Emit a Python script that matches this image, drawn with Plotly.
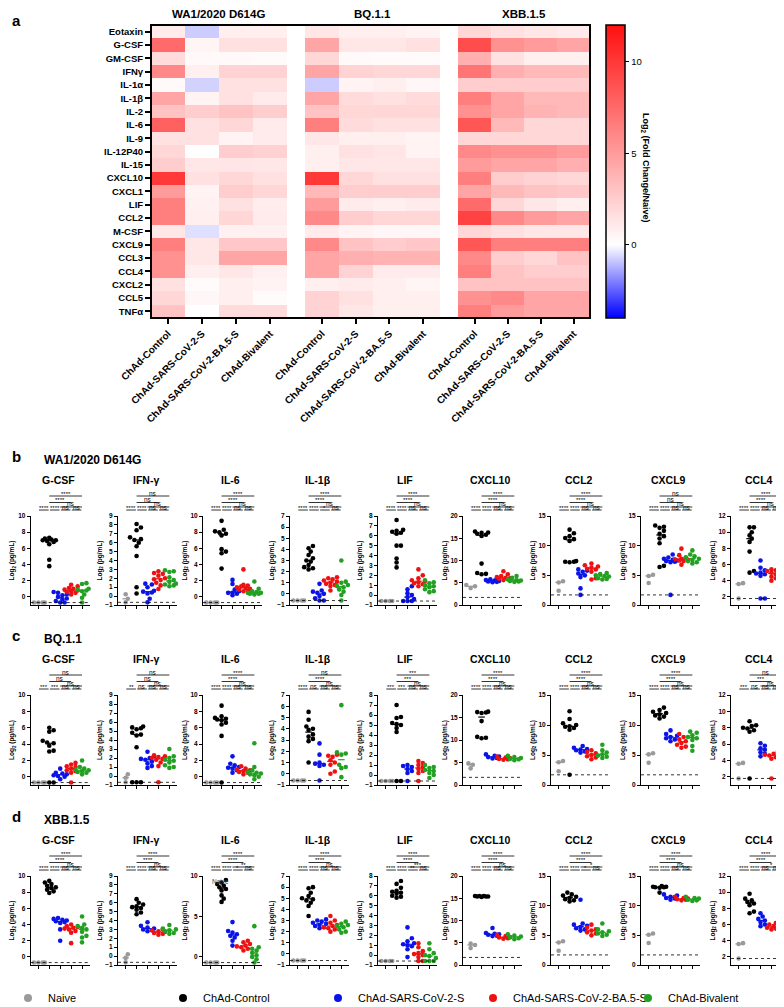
import numpy as np
import plotly.graph_objects as go

W, H = 784, 1007
FONT = "Liberation Sans, Arial, Helvetica, sans-serif"

# ---------------- heatmap data ----------------
cytokines = ["Eotaxin", "G-CSF", "GM-CSF", "IFNγ", "IL-1α", "IL-1β", "IL-2", "IL-6", "IL-9",
             "IL-12P40", "IL-15", "CXCL10", "CXCL1", "LIF", "CCL2", "M-CSF", "CXCL9", "CCL3",
             "CCL4", "CXCL2", "CCL5", "TNFα"]
vaccines = ["ChAd-Control", "ChAd-SARS-CoV-2-S", "ChAd-SARS-CoV-2-BA.5-S", "ChAd-Bivalent"]
variants = ["WA1/2020 D614G", "BQ.1.1", "XBB.1.5"]

wa1_control = [1.0, 7.5, 1.8, 6.0, 0.3, 4.5, 3.0, 8.0, 1.5, 2.0, 2.5, 10.0, 5.0, 6.5, 6.5, 1.2, 6.5, 5.5, 5.5, 1.5, 2.0, 3.0]
wa1_s = [-0.8, 0.5, 0.3, 0.8, -0.7, 0.6, 2.5, 1.5, 1.5, 0.0, 1.2, 1.5, 0.6, 0.7, 0.8, -0.5, 1.2, 1.2, 0.8, 0.2, 0.4, 0.0]
wa1_ba5 = [0.8, 1.5, 0.3, 2.2, 1.5, 1.5, 3.0, 2.0, 0.6, 2.5, 1.3, 2.0, 2.5, 1.5, 2.0, 0.7, 2.8, 4.5, 1.2, 0.8, 0.8, 1.8]
wa1_biv = [0.8, 1.5, 0.2, 2.2, 1.5, 1.0, 2.5, 1.0, 1.0, 2.3, 1.2, 1.5, 2.0, 0.9, 1.0, 0.7, 2.8, 4.5, 0.7, 0.6, 0.2, 1.8]
bq_control = [1.2, 4.5, 2.0, 4.5, -0.8, 4.5, 3.0, 6.5, 1.2, 0.8, 0.8, 10.0, 3.5, 5.0, 6.0, 1.0, 6.0, 4.5, 4.5, 0.8, 2.2, 2.2]
bq_s = [0.8, 1.2, 0.3, 2.2, 0.6, 1.8, 2.0, 1.8, 0.8, 1.5, 1.2, 2.0, 2.5, 1.0, 2.5, 0.6, 3.0, 4.0, 2.2, 1.0, 1.5, 1.2]
bq_ba5 = [0.8, 1.2, 0.2, 2.0, 0.8, 1.5, 2.0, 1.5, 0.8, 1.3, 1.2, 1.5, 2.5, 0.8, 2.0, 0.4, 2.5, 3.8, 1.0, 0.8, 0.8, 0.8]
bq_biv = [0.6, 1.5, 0.2, 2.0, 0.4, 1.8, 2.0, 1.5, 0.6, 0.6, 1.2, 1.5, 2.5, 1.0, 2.0, 0.4, 2.8, 3.8, 1.0, 0.5, 0.8, 0.8]
xbb_control = [2.0, 9.0, 4.0, 7.0, 2.5, 6.5, 5.5, 8.5, 2.0, 6.0, 5.0, 6.5, 4.5, 7.5, 9.5, 2.0, 8.5, 6.0, 6.5, 3.0, 5.5, 6.5]
xbb_s = [1.5, 5.5, 1.5, 4.0, 2.5, 4.5, 4.5, 3.5, 2.0, 5.5, 4.5, 2.5, 3.5, 2.0, 6.0, 1.5, 6.5, 2.5, 3.0, 3.0, 6.0, 5.0]
xbb_ba5 = [1.2, 5.0, 0.8, 3.5, 2.5, 3.5, 3.8, 2.0, 2.0, 5.5, 4.5, 2.2, 3.0, 1.2, 5.0, 1.2, 6.5, 2.0, 2.5, 3.0, 4.5, 4.5]
xbb_biv = [1.0, 4.5, 0.8, 3.5, 2.5, 3.5, 3.5, 2.0, 2.0, 5.0, 4.0, 2.0, 2.8, 0.8, 4.5, 1.2, 6.5, 3.0, 2.5, 3.0, 4.5, 4.5]

# ---------------- scatter data (Naive, Control, S, BA.5-S, Bivalent) ----------------
groups = ["Naive", "ChAd-Control", "ChAd-SARS-CoV-2-S", "ChAd-SARS-CoV-2-BA.5-S", "ChAd-Bivalent"]
panels = ["G-CSF", "IFN-γ", "IL-6", "IL-1β", "LIF", "CXCL10", "CCL2", "CXCL9", "CCL4"]

wa1_gcsf = [[-0.7, -0.7, -0.7, -0.7], [7.3, 7.2, 7.1, 7.0, 7.0, 6.9, 6.8, 6.5, 4.6, 3.8],
            [0.6, 0.5, 0.3, 0.2, 0.0, -0.2, -0.3, -0.5, -0.7, -0.7], [1.5, 1.3, 1.1, 1.0, 0.9, 0.8, 0.7, 0.6, 0.5, 0.3],
            [1.7, 1.6, 1.0, 0.9, 0.8, 0.7, 0.3, -0.1, -0.7]]
wa1_ifng = [[0.2, -0.3, -0.7], [8.1, 7.7, 7.4, 6.6, 6.4, 6.3, 6.0, 5.6, 4.5, 1.0, 0.3],
            [1.4, 1.3, 1.0, 0.6, 0.5, 0.4, 0.3, -0.3, -0.7], [2.8, 2.6, 2.5, 2.3, 2.0, 1.9, 1.8, 1.5, 1.2, 0.8],
            [2.9, 2.8, 2.7, 2.1, 1.8, 1.6, 1.4, 1.3, 1.2, 1.1]]
wa1_il6 = [[-0.7, -0.7, -0.7, -0.7], [9.4, 8.3, 8.1, 8.0, 7.8, 7.6, 5.9, 5.6, 5.4, 3.5],
           [2.1, 1.6, 0.9, 0.7, 0.5, 0.5, 0.4, 0.2], [3.4, 1.5, 1.4, 1.3, 1.2, 1.1, 1.0, 0.9, 0.8, 0.7],
           [1.9, 1.0, 0.7, 0.6, 0.5, 0.5, 0.4, 0.4, 0.3]]
wa1_il1b = [[-0.6, -0.6, -0.6, -0.6], [4.3, 4.1, 3.8, 3.5, 3.2, 3.0, 2.9, 2.6, 2.4, 2.3, 2.2],
            [0.9, 0.3, 0.2, 0.1, 0.0, -0.2, -0.4, -0.6, -0.6], [1.5, 1.4, 1.3, 1.2, 1.1, 1.0, 0.9, 0.8, 0.7, 0.3],
            [3.0, 1.1, 1.0, 0.8, 0.7, 0.6, 0.4, 0.2, -0.1, -0.6]]
wa1_lif = [[-0.6, -0.6, -0.6, -0.6], [7.6, 6.6, 6.5, 6.4, 6.3, 6.2, 5.0, 5.0, 3.7, 3.3, 2.8],
           [0.9, 0.6, 0.2, 0.0, -0.2, -0.4, -0.6, -0.6, -0.6], [2.6, 2.0, 1.7, 1.5, 1.4, 1.3, 1.2, 1.1, 0.9],
           [1.5, 1.3, 1.2, 1.0, 0.9, 0.8, 0.6, 0.4, 0.3]]
wa1_cxcl10 = [[4.5, 4.2, 3.8], [16.5, 16.3, 16.2, 16.0, 15.8, 15.5, 9.3, 7.2, 7.0, 6.9],
              [6.0, 5.8, 5.6, 5.5, 5.4, 5.3, 5.2, 5.1], [7.6, 6.9, 6.5, 6.3, 6.1, 6.0, 5.9, 5.8, 5.6],
              [6.5, 6.1, 5.8, 5.6, 5.5, 5.4, 5.3, 5.2]]
wa1_ccl2 = [[4.0, 3.8, 2.4], [12.7, 12.1, 11.6, 11.3, 11.1, 10.8, 7.4, 7.3, 7.3, 7.2],
            [6.0, 5.8, 5.6, 5.3, 5.0, 4.7, 2.8, 1.7], [7.0, 6.7, 6.5, 6.3, 6.1, 6.0, 5.6, 4.5, 4.3],
            [5.4, 5.2, 5.0, 4.9, 4.8, 4.5, 4.4, 4.3]]
wa1_cxcl9 = [[5.1, 4.9, 3.7], [13.4, 13.2, 13.0, 12.5, 12.0, 11.6, 11.2, 10.4, 6.6, 6.4],
             [8.5, 8.0, 7.8, 7.6, 7.5, 7.4, 7.3, 7.2, 1.7], [9.5, 8.4, 8.0, 7.8, 7.7, 7.6, 7.5, 7.4, 6.8],
             [9.2, 8.5, 8.2, 8.0, 7.8, 7.6, 7.4, 7.2, 7.0]]
wa1_ccl4 = [[3.7, 3.6, 1.8], [10.6, 10.6, 10.0, 9.6, 9.2, 8.8, 7.6, 5.2, 5.0],
            [6.5, 5.6, 5.3, 5.0, 4.9, 4.8, 4.6, 1.8, 1.8], [5.4, 5.3, 5.2, 5.0, 4.8, 4.5, 4.3, 4.0],
            [5.2, 5.0, 4.8, 4.6, 4.4, 4.2, 3.5, 3.3, 1.8]]

bq_gcsf = [[-0.7, -0.7, -0.7, -0.7], [6.0, 5.7, 5.5, 4.4, 4.2, 4.1, 3.8, 3.2, 3.1, -0.7, -0.7],
           [1.0, 0.5, 0.4, 0.3, 0.2, 0.1, 0.0, -0.3], [1.7, 1.5, 1.3, 1.2, 1.0, 0.8, 0.7, 0.5, -0.7],
           [2.0, 1.2, 1.0, 0.9, 0.8, 0.7, 0.6, 0.5, 0.3]]
bq_ifng = [[0.2, -0.2, -0.7], [5.5, 5.4, 5.3, 5.2, 4.8, 4.6, 4.5, 3.2, -0.7, -0.7, -0.7],
           [2.7, 2.2, 2.0, 1.9, 1.8, 1.6, 1.4, 1.1, 0.9], [2.3, 2.2, 2.1, 2.0, 1.9, 1.8, 1.5, 1.1, -0.7],
           [3.0, 2.2, 2.0, 1.8, 1.7, 1.5, 1.2, 1.0, 0.9]]
bq_il6 = [[-0.7, -0.7, -0.7, -0.7], [8.7, 7.4, 7.2, 7.1, 7.0, 6.9, 6.6, 6.4, 5.0, -0.7],
          [2.5, 1.6, 1.4, 1.2, 1.1, 1.0, 0.8, 0.5], [1.3, 1.0, 0.9, 0.8, 0.7, 0.6, 0.5, 0.3],
          [4.1, 1.2, 0.8, 0.6, 0.5, 0.4, 0.3, 0.2, 0.0, -0.3]]
bq_il1b = [[-0.6, -0.6, -0.6, -0.6], [5.5, 4.8, 4.2, 4.0, 3.9, 3.5, 3.3, 3.1, 2.9, 1.0],
           [2.7, 1.7, 1.0, 0.9, 0.8, 0.7, -0.6], [1.7, 1.6, 1.5, 1.2, 1.0, 0.8, 0.2, 0.0],
           [6.1, 1.9, 1.8, 1.7, 0.8, 0.6, 0.5, -0.3]]
bq_lif = [[-0.6, -0.6, -0.6, -0.6], [7.0, 5.8, 5.7, 5.2, 5.1, 5.0, 4.7, 4.3, -0.6, -0.6],
          [1.0, 0.9, 0.8, 0.6, 0.4, 0.2, -0.6], [1.4, 1.2, 1.0, 0.8, 0.6, 0.4, 0.2, -0.6],
          [1.0, 0.8, 0.7, 0.5, 0.4, 0.2, 0.0, -0.3]]
bq_cxcl10 = [[4.8, 4.5, 3.7], [16.3, 16.2, 16.1, 16.0, 14.2, 10.7, 10.5, 10.4],
             [6.8, 6.5, 6.3, 6.2, 6.0, 5.9], [6.3, 6.1, 6.0, 5.8, 5.7, 5.6],
             [6.5, 6.2, 6.0, 5.8, 5.7, 5.5]]
bq_ccl2 = [[4.0, 3.8, 2.3], [12.3, 11.0, 10.3, 10.0, 9.8, 9.7, 9.5, 9.2, 1.7],
           [6.5, 6.2, 6.0, 5.9, 5.8, 5.6, 5.4], [5.8, 5.5, 5.3, 5.0, 4.8, 4.6, 4.3],
           [6.7, 5.8, 5.4, 5.1, 4.9, 4.7, 4.5]]
bq_cxcl9 = [[5.3, 5.1, 3.7], [12.9, 12.5, 12.2, 12.0, 11.8, 11.6, 11.4, 11.1],
            [9.1, 8.5, 8.2, 8.0, 7.8, 7.6, 7.3], [8.5, 8.0, 7.6, 7.3, 7.0, 6.7, 6.4, 6.2],
            [8.9, 8.7, 8.3, 8.0, 7.8, 7.5, 6.5, 5.7]]
bq_ccl4 = [[3.7, 3.6, 1.8], [8.8, 8.3, 8.2, 8.0, 7.9, 7.7, 7.5, 1.8],
           [6.1, 5.8, 5.5, 5.3, 5.0, 4.8, 4.5], [4.9, 4.8, 4.7, 4.6, 4.4, 4.2, 1.8],
           [5.5, 5.3, 5.1, 5.0, 4.8, 3.1, 1.8]]

xbb_gcsf = [[-0.7, -0.7, -0.7, -0.7], [9.4, 9.2, 9.0, 8.8, 8.6, 8.5, 8.3, 8.1, 7.9],
            [4.8, 4.7, 4.6, 4.5, 4.4, 4.3, 4.2, 3.4, 2.0], [4.0, 3.8, 3.7, 3.6, 3.5, 3.4, 3.2, 3.0, 1.7],
            [5.0, 4.0, 3.8, 3.6, 3.4, 3.1, 2.6, 2.4, 1.8]]
xbb_ifng = [[0.2, -0.2, -0.7], [6.4, 6.0, 5.8, 5.6, 5.5, 5.4, 5.2, 4.9, 4.7],
            [3.8, 3.4, 3.2, 3.1, 3.0, 2.9, 2.8], [3.0, 2.9, 2.8, 2.7, 2.6, 2.5, 2.4],
            [3.5, 3.1, 3.0, 2.9, 2.8, 2.6, 2.5]]
xbb_il6 = [[-0.7, -0.7, -0.7, -0.7], [9.5, 9.2, 9.0, 8.8, 8.6, 8.4, 8.2, 7.6, 7.2, 6.8],
           [4.3, 3.2, 3.0, 2.8, 2.6, 2.4, 2.0, 1.4], [2.0, 1.8, 1.6, 1.4, 1.3, 1.2, 1.0, 0.8],
           [3.8, 1.2, 1.0, 0.8, 0.5, 0.2, 0.0, -0.3, -0.7]]
xbb_il1b = [[-0.6, -0.6, -0.6, -0.6], [6.0, 5.9, 5.5, 5.2, 5.0, 4.9, 4.8, 4.6, 4.3, 3.4],
            [3.1, 3.0, 2.9, 2.8, 2.7, 2.6, 2.5, 2.4, 2.3], [3.4, 3.0, 2.8, 2.6, 2.5, 2.4, 2.3, 2.2, 2.0],
            [2.9, 2.7, 2.6, 2.5, 2.4, 2.2, 2.0, 1.9]]
xbb_lif = [[-0.6, -0.6, -0.6, -0.6], [7.5, 7.2, 6.8, 6.5, 6.4, 6.3, 6.2, 6.0, 5.9, 5.8],
           [2.8, 1.7, 1.4, 1.2, 1.1, 1.0, 0.9, 0.6, -0.2], [1.2, 0.8, 0.4, 0.2, 0.1, 0.0, -0.2, -0.6, -0.6],
           [1.2, 0.6, 0.2, 0.0, -0.1, -0.3, -0.6, -0.6, -0.6]]
xbb_cxcl10 = [[4.8, 4.5, 3.8], [15.5, 15.5, 15.5, 15.4, 15.4, 15.4, 15.3],
              [8.3, 7.2, 7.0, 6.9, 6.8, 6.6, 6.5], [6.8, 6.5, 6.3, 6.2, 6.0, 5.9],
              [6.9, 6.6, 6.4, 6.2, 6.0, 5.8]]
xbb_ccl2 = [[4.0, 3.8, 2.4], [12.2, 11.9, 11.7, 11.5, 11.3, 11.1, 10.9, 10.7],
            [11.0, 7.0, 6.8, 6.6, 6.4, 6.2, 6.0, 5.8], [6.8, 6.3, 6.0, 5.8, 5.5, 5.3, 5.0],
            [7.0, 6.0, 5.7, 5.5, 5.3, 5.1, 4.9]]
xbb_cxcl9 = [[5.3, 5.1, 3.7], [13.3, 13.2, 13.2, 13.1, 13.1, 13.0, 12.2],
             [11.9, 11.7, 11.5, 11.3, 11.2, 11.0], [11.5, 11.3, 11.2, 11.1, 11.0, 10.9],
             [11.5, 11.3, 11.2, 11.0, 10.9, 10.8]]
xbb_ccl4 = [[3.7, 3.6, 1.8], [9.8, 9.2, 9.0, 8.8, 8.6, 8.4, 7.6, 7.4],
            [7.4, 7.0, 6.7, 6.5, 6.3, 6.0, 5.8], [6.2, 6.0, 5.8, 5.7, 5.6, 5.5, 5.4],
            [6.2, 5.9, 5.7, 5.6, 5.5, 5.4, 5.3]]

# significance labels, comparisons: (N,C) (C,S) (S,BA5) (BA5,Biv) (S,Biv) (C,BA5) (C,Biv)
wa1_sig = [["****", "****", "ns", "ns", "ns", "****", "****"],
           ["****", "****", "ns", "ns", "ns", "ns", "ns"],
           ["****", "****", "ns", "ns", "ns", "****", "****"],
           ["****", "****", "*", "ns", "ns", "****", "****"],
           ["****", "****", "ns", "ns", "ns", "****", "****"],
           ["****", "****", "ns", "ns", "ns", "****", "****"],
           ["****", "****", "ns", "ns", "ns", "****", "****"],
           ["****", "****", "ns", "ns", "ns", "ns", "ns"],
           ["****", "****", "ns", "ns", "ns", "****", "****"]]
bq_sig = [["***", "***", "ns", "ns", "ns", "ns", "ns"],
          ["**", "ns", "ns", "ns", "ns", "ns", "ns"],
          ["****", "****", "ns", "ns", "ns", "****", "****"],
          ["****", "ns", "ns", "ns", "ns", "****", "ns"],
          ["***", "***", "ns", "ns", "ns", "***", "***"],
          ["****", "****", "ns", "ns", "ns", "****", "****"],
          ["****", "****", "ns", "ns", "ns", "****", "****"],
          ["****", "****", "ns", "ns", "ns", "****", "****"],
          ["***", "ns", "ns", "ns", "ns", "***", "ns"]]
xbb_sig = [["****", "****", "ns", "ns", "ns", "****", "****"],
           ["****", "****", "ns", "ns", "ns", "****", "****"],
           ["****", "****", "*", "ns", "**", "****", "****"],
           ["****", "****", "ns", "ns", "ns", "****", "****"],
           ["****", "****", "**", "ns", "***", "****", "****"],
           ["****", "****", "ns", "ns", "ns", "****", "****"],
           ["****", "****", "*", "ns", "*", "****", "****"],
           ["****", "****", "ns", "ns", "ns", "****", "****"],
           ["****", "****", "ns", "ns", "*", "****", "****"]]

# ---------------- styling / geometry ----------------
def fx(p):
    return p / W


def fy(p):
    return 1 - p / H


colorscale = [[0.0, "#0000ff"], [0.25, "#ffffff"], [1.0, "#ff1010"]]
grp_colors = ["#9a9a9a", "#000000", "#0a14e6", "#ee1111", "#22a022"]

axis_cfg = {
    "G-CSF": dict(range=[-1, 10], tick0=0, dtick=2, lod=-0.7),
    "IFN-γ": dict(range=[-1, 9], tick0=-1, dtick=1, lod=-0.7),
    "IL-6": dict(range=[-1, 10], tick0=0, dtick=2, lod=-0.7),
    "IL-1β": dict(range=[-1, 7], tick0=-1, dtick=1, lod=-0.6),
    "LIF": dict(range=[-1, 8], tick0=-1, dtick=1, lod=-0.6),
    "CXCL10": dict(range=[0, 20], tick0=0, dtick=5, lod=1.7),
    "CCL2": dict(range=[0, 15], tick0=0, dtick=5, lod=1.7),
    "CXCL9": dict(range=[0, 15], tick0=0, dtick=5, lod=1.7),
    "CCL4": dict(range=[1, 12], tick0=2, dtick=2, lod=1.8),
}

fig = go.Figure()
layout = {}
shapes = []
annotations = []

# ---------------- heatmap ----------------
hm_cols = [(143, 279), (297, 432), (450, 582)]
hm_top, hm_bot = 17, 310
hm_sets = [[wa1_control, wa1_s, wa1_ba5, wa1_biv],
           [bq_control, bq_s, bq_ba5, bq_biv],
           [xbb_control, xbb_s, xbb_ba5, xbb_biv]]
for g, (cols, dom) in enumerate(zip(hm_sets, hm_cols)):
    z = np.array(cols).T.tolist()
    xa = "x" if g == 0 else f"x{g + 1}"
    tr = dict(z=z, x=vaccines, y=cytokines, xaxis=xa, yaxis="y", zmin=-4, zmax=12,
              colorscale=colorscale, showscale=(g == 0), hoverinfo="skip")
    if g == 0:
        tr["colorbar"] = dict(
            x=fx(598), xanchor="left", y=fy((hm_top + hm_bot) / 2), yanchor="middle",
            len=hm_bot - hm_top, lenmode="pixels", thickness=19, thicknessmode="pixels",
            outlinewidth=1.5, outlinecolor="black", tickvals=[0, 5, 10], ticks="outside",
            ticklen=4, tickwidth=1.2, tickcolor="black", xpad=0, ypad=0,
            tickfont=dict(size=9.5, family=FONT, color="black"))
    fig.add_trace(go.Heatmap(**tr))
    key = "xaxis" if g == 0 else f"xaxis{g + 1}"
    layout[key] = dict(domain=[fx(dom[0]), fx(dom[1])], anchor="y", tickangle=-45,
                       ticks="outside", ticklen=5, tickwidth=1.5, tickcolor="black",
                       showline=False, showgrid=False, zeroline=False, automargin=False,
                       tickfont=dict(size=10, family=FONT, color="black", weight="bold"))
    annotations.append(dict(text=f"<b>{variants[g]}</b>", x=fx((dom[0] + dom[1]) / 2), y=fy(6),
                            xref="paper", yref="paper", showarrow=False, xanchor="center",
                            yanchor="middle", font=dict(size=11.5, family=FONT, color="black")))
layout["yaxis"] = dict(domain=[fy(hm_bot), fy(hm_top)], anchor="x", autorange="reversed",
                       ticks="outside", ticklen=5, tickwidth=1.5, tickcolor="black",
                       showline=False, showgrid=False, zeroline=False, automargin=False,
                       tickfont=dict(size=9.5, family=FONT, color="black", weight="bold"))
shapes.append(dict(type="rect", xref="paper", yref="paper", x0=fx(143), x1=fx(582),
                   y0=fy(hm_bot), y1=fy(hm_top), line=dict(color="black", width=2)))
annotations.append(dict(text="<b>Log<sub>2</sub> (Fold Change/Naive)</b>", x=fx(638),
                        y=fy(160), xref="paper", yref="paper", showarrow=False, textangle=90,
                        xanchor="center", yanchor="middle",
                        font=dict(size=9, family=FONT, color="black")))

# ---------------- scatter panels ----------------
row_data = [
    [wa1_gcsf, wa1_ifng, wa1_il6, wa1_il1b, wa1_lif, wa1_cxcl10, wa1_ccl2, wa1_cxcl9, wa1_ccl4],
    [bq_gcsf, bq_ifng, bq_il6, bq_il1b, bq_lif, bq_cxcl10, bq_ccl2, bq_cxcl9, bq_ccl4],
    [xbb_gcsf, xbb_ifng, xbb_il6, xbb_il1b, xbb_lif, xbb_cxcl10, xbb_ccl2, xbb_cxcl9, xbb_ccl4],
]
row_sig = [wa1_sig, bq_sig, xbb_sig]
row_letters = ["b", "c", "d"]
row_px = [(508, 597), (687, 777), (868, 957)]
lefts = [22.7, 110, 195, 282, 370, 455, 543, 633, 723]
PW = 59
XR = [-0.7, 4.7]
comps = [(0, 1, 6, 0.06), (1, 2, 6, 0.06), (2, 3, 6, 0.06), (3, 4, 6, 0.06),
         (2, 4, 9, 0.0), (1, 3, 13.5, 0.0), (1, 4, 20, 0.0)]


def swarm(vals, ypx, xpx, diam=3.9, step=0.2, kmax=3):
    vals = np.asarray(vals, float)
    order = np.argsort(vals)
    cands = [0.0]
    for k in range(1, kmax + 1):
        cands += [k * step, -k * step]
    placed = []
    offs = np.zeros(len(vals))
    for idx in order:
        y = vals[idx]
        best, bestd = 0.0, -1
        for c in cands:
            dmin = min([np.hypot((c - px) * xpx, (y - py) * ypx) for px, py in placed] or [99])
            if dmin >= diam:
                best = c
                break
            if dmin > bestd:
                best, bestd = c, dmin
        placed.append((best, y))
        offs[idx] = best
    return offs


n = 0
for r in range(3):
    top, bot = row_px[r]
    annotations.append(dict(text=f"<b>{row_letters[r]}</b>", x=fx(2), y=fy(top - 60), xref="paper",
                            yref="paper", showarrow=False, xanchor="left", yanchor="middle",
                            font=dict(size=15, family=FONT, color="black")))
    annotations.append(dict(text=f"<b>{variants[r]}</b>", x=fx(34), y=fy(top - 56), xref="paper",
                            yref="paper", showarrow=False, xanchor="left", yanchor="middle",
                            font=dict(size=12, family=FONT, color="black")))
    for p in range(9):
        name = panels[p]
        cfg = dict(axis_cfg[name])
        if r == 2 and name == "IL-6":
            cfg["dtick"] = 5
        xi = 4 + n
        yi = 2 + n
        xa, ya = f"x{xi}", f"y{yi}"
        L = lefts[p]
        layout[f"xaxis{xi}"] = dict(domain=[fx(L), fx(L + PW)], anchor=ya, range=XR,
                                    tickvals=[0, 1, 2, 3, 4], showticklabels=False,
                                    ticks="outside", ticklen=3, tickwidth=1, tickcolor="black",
                                    showline=True, linecolor="black", linewidth=1,
                                    showgrid=False, zeroline=False, automargin=False)
        layout[f"yaxis{yi}"] = dict(domain=[fy(bot), fy(top)], anchor=xa, range=cfg["range"],
                                    tick0=cfg["tick0"], dtick=cfg["dtick"], ticks="outside",
                                    ticklen=3, tickwidth=1, tickcolor="black", showline=True,
                                    linecolor="black", linewidth=1, showgrid=False,
                                    zeroline=False, automargin=False,
                                    tickfont=dict(size=6.5, family=FONT, color="black", weight="bold"),
                                    title=dict(text="<b>Log<sub>2</sub> (pg/mL)</b>", standoff=2,
                                               font=dict(size=6.5, family=FONT, color="black")))
        ypx = (bot - top) / (cfg["range"][1] - cfg["range"][0])
        xpx = PW / (XR[1] - XR[0])
        data = row_data[r][p]
        for gi, vals in enumerate(data):
            offs = swarm(vals, ypx, xpx)
            fig.add_trace(go.Scatter(x=(gi + offs).tolist(), y=vals, xaxis=xa, yaxis=ya,
                                     mode="markers", showlegend=False, hoverinfo="skip",
                                     cliponaxis=False,
                                     marker=dict(size=4.6, color=grp_colors[gi], line=dict(width=0))))
            med = float(np.median(vals))
            shapes.append(dict(type="line", xref=xa, yref=ya, x0=gi - 0.3, x1=gi + 0.3, y0=med, y1=med,
                               line=dict(color=grp_colors[gi], width=1.2)))
        # LOD dotted line
        shapes.append(dict(type="line", xref=xa, yref=ya, x0=XR[0], x1=XR[1], y0=cfg["lod"],
                           y1=cfg["lod"], line=dict(color="black", width=0.8, dash="dot")))
        # panel title
        annotations.append(dict(text=f"<b>{name}</b>", x=fx(L + PW / 2 - 2), y=fy(top - 36),
                                xref="paper", yref="paper", showarrow=False, xanchor="center",
                                yanchor="middle", font=dict(size=10.5, family=FONT, color="black")))
        # significance
        for (i, j, d, inset), lab in zip(comps, row_sig[r][p]):
            yl = fy(top - d)
            shapes.append(dict(type="line", xref=xa, yref="paper", x0=i + inset, x1=j - inset,
                               y0=yl, y1=yl, line=dict(color="black", width=0.8)))
            annotations.append(dict(text=lab, x=(i + j) / 2, y=yl, xref=xa, yref="paper",
                                    showarrow=False, xanchor="center", yanchor="bottom",
                                    borderpad=0, yshift=-1.5,
                                    font=dict(size=6 if lab != "ns" else 6.5, family=FONT,
                                              color="black")))
        if r == 2 and name == "IL-6":
            annotations.append(dict(text="Naive", x=0.9, y=9.3, xref=xa, yref=ya, showarrow=False,
                                    font=dict(size=6.5, family=FONT, color="#444444")))
        n += 1

# legend entries
for gi, g in enumerate(groups):
    fig.add_trace(go.Scatter(x=[None], y=[None], xaxis="x4", yaxis="y2", mode="markers", name=g,
                             marker=dict(size=8, color=grp_colors[gi])))

annotations.append(dict(text="<b>a</b>", x=fx(2), y=fy(12), xref="paper", yref="paper",
                        showarrow=False, xanchor="left", yanchor="middle",
                        font=dict(size=15, family=FONT, color="black")))

fig.update_layout(
    width=W, height=H, margin=dict(l=0, r=0, t=0, b=0, autoexpand=False),
    paper_bgcolor="white", plot_bgcolor="white",
    font=dict(family=FONT, color="black"),
    shapes=shapes, annotations=annotations,
    legend=dict(orientation="h", x=0.0, xanchor="left", y=fy(990), yanchor="middle",
                font=dict(size=11, family=FONT, color="black"), entrywidth=110,
                entrywidthmode="pixels", itemwidth=30, bgcolor="rgba(0,0,0,0)"),
    **layout,
)

fig.write_html("out.html")
